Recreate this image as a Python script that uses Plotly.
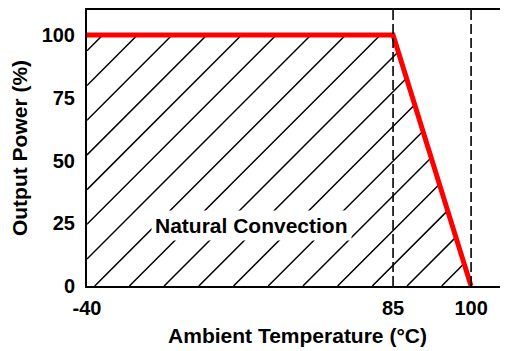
import plotly.graph_objects as go

# ---- data ----
temps = [-40, 85, 100]          # ambient temperature (°C)
power = [100, 100, 0]           # output power (%)
ref_lines = [85, 100]           # dashed reference temperatures
x_ticks = [-40, 85, 100]
y_ticks = [0, 25, 50, 75, 100]
region_label = "Natural Convection"
label_temp = 27
label_power = 24

# axis is broken: the span below 85 °C is compressed
BREAK = 85
COMPRESS = 0.4708
X_MAX = 107.1
Y_MAX = 110

# ---- style / layout ----
W, H = 500, 343
ML, MR, MT, MB = 79, 0, 2, 65
HATCH_STEP = 34.7     # px between hatch lines (measured along x)
HATCH_PHASE = 6.1     # px offset of the hatch family inside the plot area


def ax(t):
    return t if t >= BREAK else BREAK - (BREAK - t) * COMPRESS


def b(s):
    return "<b>" + s + "</b>"


xs = [ax(t) for t in temps]
X_MIN = ax(-40)
PW, PH = W - ML - MR, H - MT - MB
sx = PW / (X_MAX - X_MIN)
sy = PH / Y_MAX


def to_px(x, y):
    return ((x - X_MIN) * sx, (Y_MAX - y) * sy)


def to_data(px, py):
    return (X_MIN + px / sx, Y_MAX - py / sy)


# hatch region polygon (area under the derating curve), in plot pixels
poly = [to_px(xs[0], 0)] + [to_px(x, y) for x, y in zip(xs, power)]
if power[-1] != 0:
    poly.append(to_px(xs[-1], 0))
area = sum(poly[i][0] * poly[(i + 1) % len(poly)][1] - poly[(i + 1) % len(poly)][0] * poly[i][1]
           for i in range(len(poly)))
sign = 1 if area > 0 else -1


def clip(p0, d):
    t0, t1 = -1e9, 1e9
    n = len(poly)
    for i in range(n):
        ax_, ay_ = poly[i]
        bx_, by_ = poly[(i + 1) % n]
        ex, ey = bx_ - ax_, by_ - ay_
        nx, ny = -ey * sign, ex * sign   # inward normal
        num = nx * (p0[0] - ax_) + ny * (p0[1] - ay_)
        den = nx * d[0] + ny * d[1]
        if abs(den) < 1e-12:
            if num < 0:
                return None
            continue
        t = -num / den
        if den > 0:
            t0 = max(t0, t)
        else:
            t1 = min(t1, t)
    if t0 >= t1:
        return None
    return (p0[0] + t0 * d[0], p0[1] + t0 * d[1]), (p0[0] + t1 * d[0], p0[1] + t1 * d[1])


hx, hy = [], []
c = HATCH_PHASE - HATCH_STEP * 20
while c < PW + PH + HATCH_STEP:
    seg = clip((c, 0.0), (-1.0, 1.0))   # line px + py = c
    if seg:
        for p in seg:
            dx, dy = to_data(*p)
            hx.append(dx)
            hy.append(dy)
        hx.append(None)
        hy.append(None)
    c += HATCH_STEP

FONT = "Liberation Sans, Arial, sans-serif"

fig = go.Figure()
fig.add_trace(go.Scatter(x=hx, y=hy, mode="lines",
                         line=dict(color="black", width=1.5),
                         hoverinfo="skip", showlegend=False))

for t in ref_lines:
    fig.add_shape(type="line", xref="x", yref="paper", x0=ax(t), x1=ax(t),
                  y0=0, y1=1, line=dict(color="black", width=1.6, dash="10px,4px"))

fig.add_trace(go.Scatter(x=xs, y=power, mode="lines",
                         line=dict(color="#ff0000", width=5),
                         showlegend=False))

fig.add_annotation(x=ax(label_temp), y=label_power, text=b(region_label),
                   showarrow=False, bgcolor="white", borderpad=3,
                   font=dict(family=FONT, size=21, color="black"))

# the page body adds an 8px offset, so the figure is 8px smaller
fig.update_layout(
    width=W, height=H,
    margin=dict(l=ML, r=MR, t=MT, b=MB),
    plot_bgcolor="white", paper_bgcolor="white",
    font=dict(family=FONT, color="black", size=20),
    xaxis=dict(range=[X_MIN, X_MAX], tickvals=[ax(t) for t in x_ticks],
               ticktext=[b(str(t)) for t in x_ticks], showgrid=False, zeroline=False,
               showline=True, linecolor="black", linewidth=2, mirror=True,
               ticks="", ticklabelstandoff=3, automargin=False,
               title=dict(text=b("Ambient Temperature (°C)"), font=dict(size=21),
                          standoff=10)),
    yaxis=dict(range=[0, Y_MAX], tickvals=y_ticks,
               ticktext=[b(str(v)) for v in y_ticks], showgrid=False, zeroline=False,
               showline=True, linecolor="black", linewidth=2,
               ticks="", ticklabelstandoff=6, automargin=False,
               title=dict(text=b("Output Power (%)"), font=dict(size=21),
                          standoff=10)),
)

fig.write_html("out.html")
